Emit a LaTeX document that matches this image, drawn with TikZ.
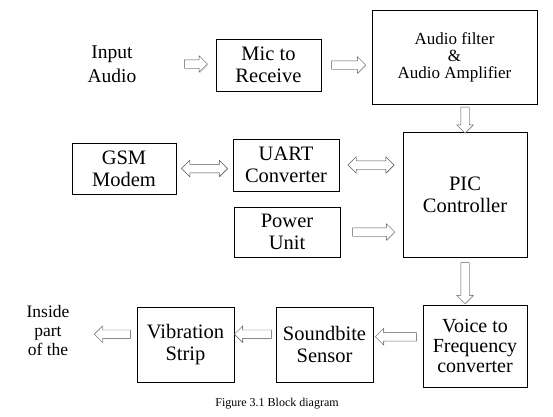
\documentclass[tikz,border=0pt]{standalone}
\usepackage{fontspec}
\setmainfont{Liberation Serif}
\usetikzlibrary{calc,shapes.arrows,shadows}

\tikzset{
  blk/.style={draw, fill=white, align=center, inner sep=2pt,
    font=\fontsize{20.5}{22}\selectfont,
    drop shadow={shadow xshift=1pt, shadow yshift=-1pt, opacity=.35}},
  fat/.style={single arrow, draw=gray!70!black, fill=white, inner xsep=0pt, inner ysep=4pt,
    single arrow head extend=4pt, minimum height=#1, sloped, allow upside down,
    drop shadow={shadow xshift=.8pt, shadow yshift=-.8pt, opacity=.3}},
  fatboth/.style={double arrow, draw=gray!70!black, fill=white, inner xsep=0pt, inner ysep=4pt,
    double arrow head extend=4pt, minimum height=#1, sloped, allow upside down,
    drop shadow={shadow xshift=.8pt, shadow yshift=-.8pt, opacity=.3}},
}

\begin{document}
\begin{tikzpicture}[x=1pt, y=-1pt]
\useasboundingbox (0,0) rectangle (553,416);

% Blocks
\node[blk, minimum width=105pt, minimum height=52pt] (mic) at (268.5,65) {Mic to\\Receive};
\node[blk, minimum width=165pt, minimum height=94pt, font=\fontsize{17}{17}\selectfont] (filt) at (454.5,57) {Audio filter\\\&\\Audio Amplifier};
\node[blk, minimum width=124pt, minimum height=125pt] (pic) at (465,194.5) {PIC\\Controller};
\node[blk, minimum width=104pt, minimum height=51pt] (gsm) at (124,168.5) {GSM\\Modem};
\node[blk, minimum width=106pt, minimum height=52pt] (uart) at (286,165) {UART\\Converter};
\node[blk, minimum width=106pt, minimum height=50pt] (pwr) at (287,232) {Power\\Unit};
\node[blk, minimum width=104pt, minimum height=82pt, font=\fontsize{20}{20}\selectfont] (voice) at (475,346) {Voice to\\Frequency\\converter};
\node[blk, minimum width=97pt, minimum height=75pt] (sound) at (324.5,344.5) {Soundbite\\Sensor};
\node[blk, minimum width=97pt, minimum height=75pt] (vib) at (185.5,344.5) {Vibration\\Strip};

% Free text
\node[align=center, font=\fontsize{19.5}{24}\selectfont] (in) at (112,64) {Input\\Audio};
\node[align=center, font=\fontsize{17.5}{19}\selectfont] (out) at (48,331) {Inside\\part\\of the};
\node[font=\fontsize{12}{14}\selectfont] (cap) at (277,404) {Figure 3.1 Block diagram};

% Block arrows
\path (in.east) -- (in.east -| mic.west) node[fat=23pt, pos=.71] (a1) {};
\path (mic.east) -- (mic.east -| filt.west) node[fat=34pt, midway] (a2) {};
\path (pic.north |- filt.south) -- (pic.north) node[fat=26pt, midway] (a3) {};
\path (gsm.east) -- (gsm.east -| uart.west) node[fatboth=46pt, midway] (a4) {};
\path (uart.east) -- (uart.east -| pic.west) node[fatboth=46pt, midway] (a5) {};
\path (pwr.east) -- (pwr.east -| pic.west) node[fat=42pt, midway] (a6) {};
\path (pic.south) -- (pic.south |- voice.north) node[fat=41pt, midway] (a7) {};
\path (voice.170) -- (voice.170 -| sound.east) node[fat=41pt, midway] (a8) {};
\path (sound.168) -- (sound.168 -| vib.east) node[fat=37pt, midway] (a9) {};
\path (vib.168) -- (vib.168 -| out.east) node[fat=36pt, pos=.35] (a10) {};
\end{tikzpicture}
\end{document}
